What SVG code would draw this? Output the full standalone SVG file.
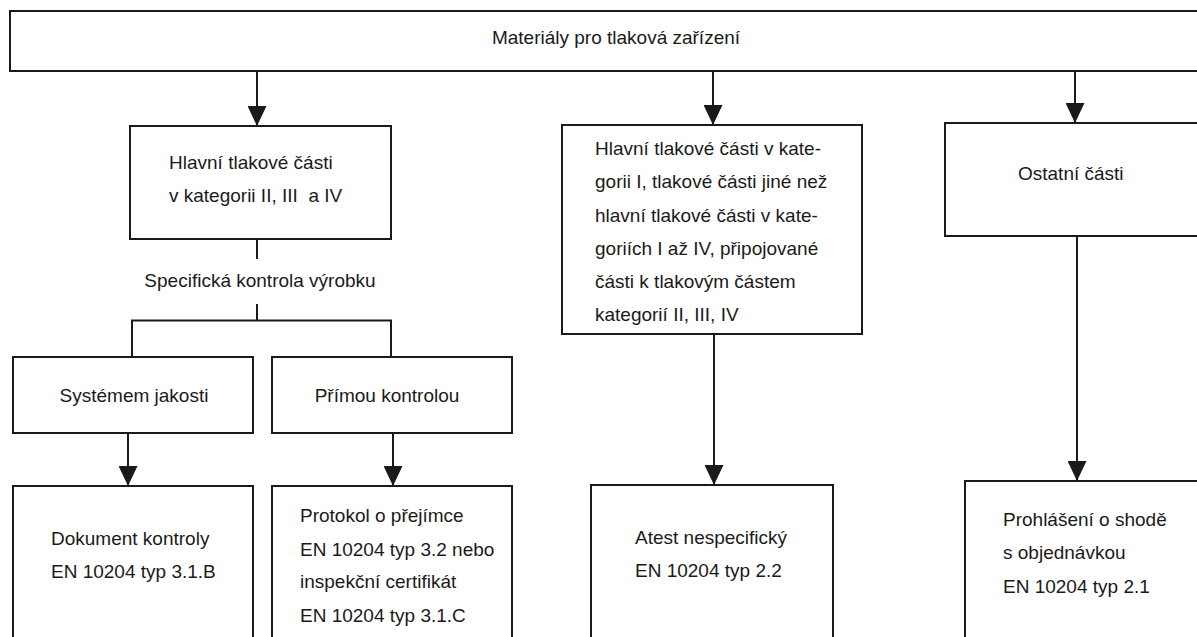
<svg xmlns="http://www.w3.org/2000/svg" width="1197" height="637" viewBox="0 0 1197 637">
<style>
  .box { fill: #fff; stroke: #1a1a1a; stroke-width: 2; }
  .ln { fill: none; stroke: #1a1a1a; stroke-width: 2; }
  text { font-family: "Liberation Sans", Arial, sans-serif; font-size: 19px; fill: #1a1a1a; }
  .c { text-anchor: middle; }
</style>
<defs>
  <marker id="ah" viewBox="0 0 20 19" refX="20" refY="9.5" markerWidth="20" markerHeight="19" markerUnits="userSpaceOnUse" orient="auto">
    <path d="M0,0 L20,9.5 L0,19 z" fill="#1a1a1a"/>
  </marker>
</defs>
<rect width="1197" height="637" fill="#fff"/>

<g id="connectors">
  <line class="ln" x1="257" y1="71" x2="257" y2="126" marker-end="url(#ah)"/>
  <line class="ln" x1="713" y1="71" x2="713" y2="125" marker-end="url(#ah)"/>
  <line class="ln" x1="1075" y1="71" x2="1075" y2="123" marker-end="url(#ah)"/>
  <line class="ln" x1="257" y1="239" x2="257" y2="259"/>
  <path class="ln" d="M257,304 V320.5 M132,357 V320.5 H391 V357"/>
  <line class="ln" x1="128" y1="433" x2="128" y2="486" marker-end="url(#ah)"/>
  <line class="ln" x1="393" y1="433" x2="393" y2="486" marker-end="url(#ah)"/>
  <line class="ln" x1="714" y1="334" x2="714" y2="485" marker-end="url(#ah)"/>
  <line class="ln" x1="1077" y1="236" x2="1077" y2="481" marker-end="url(#ah)"/>
  <text class="c" x="260" y="287">Specifická kontrola výrobku</text>
</g>

<g id="top">
  <rect class="box" x="10" y="11" width="1200" height="60"/>
  <text class="c" x="616" y="44">Materiály pro tlaková zařízení</text>
</g>

<g id="hlavni">
  <rect class="box" x="130" y="126" width="261" height="113"/>
  <text x="169" y="169">Hlavní tlakové části</text>
  <text x="169" y="202" xml:space="preserve">v kategorii II, III  a IV</text>
</g>

<g id="stredni">
  <rect class="box" x="562" y="125" width="300" height="209"/>
  <text x="595" y="155">Hlavní tlakové části v kate-</text>
  <text x="595" y="188">gorii I, tlakové části jiné než</text>
  <text x="595" y="222">hlavní tlakové části v kate-</text>
  <text x="595" y="255">goriích I až IV, připojované</text>
  <text x="595" y="288">části k tlakovým částem</text>
  <text x="595" y="321">kategorií II, III, IV</text>
</g>

<g id="ostatni">
  <rect class="box" x="945" y="123" width="260" height="113"/>
  <text x="1018" y="180">Ostatní části</text>
</g>

<g id="system">
  <rect class="box" x="13" y="357" width="240" height="76"/>
  <text class="c" x="134" y="402">Systémem jakosti</text>
</g>

<g id="prima">
  <rect class="box" x="272" y="357" width="240" height="76"/>
  <text class="c" x="387" y="402">Přímou kontrolou</text>
</g>

<g id="dokument">
  <rect class="box" x="13" y="486" width="240" height="170"/>
  <text x="51" y="545">Dokument kontroly</text>
  <text x="51" y="578">EN 10204 typ 3.1.B</text>
</g>

<g id="protokol">
  <rect class="box" x="272" y="486" width="240" height="170"/>
  <text x="300" y="522">Protokol o přejímce</text>
  <text x="300" y="556">EN 10204 typ 3.2 nebo</text>
  <text x="300" y="588">inspekční certifikát</text>
  <text x="300" y="622">EN 10204 typ 3.1.C</text>
</g>

<g id="atest">
  <rect class="box" x="591" y="485" width="242" height="170"/>
  <text x="635" y="544">Atest nespecifický</text>
  <text x="635" y="577">EN 10204 typ 2.2</text>
</g>

<g id="prohlaseni">
  <rect class="box" x="965" y="481" width="240" height="175"/>
  <text x="1003" y="526">Prohlášení o shodě</text>
  <text x="1003" y="559">s objednávkou</text>
  <text x="1003" y="593">EN 10204 typ 2.1</text>
</g>
</svg>
